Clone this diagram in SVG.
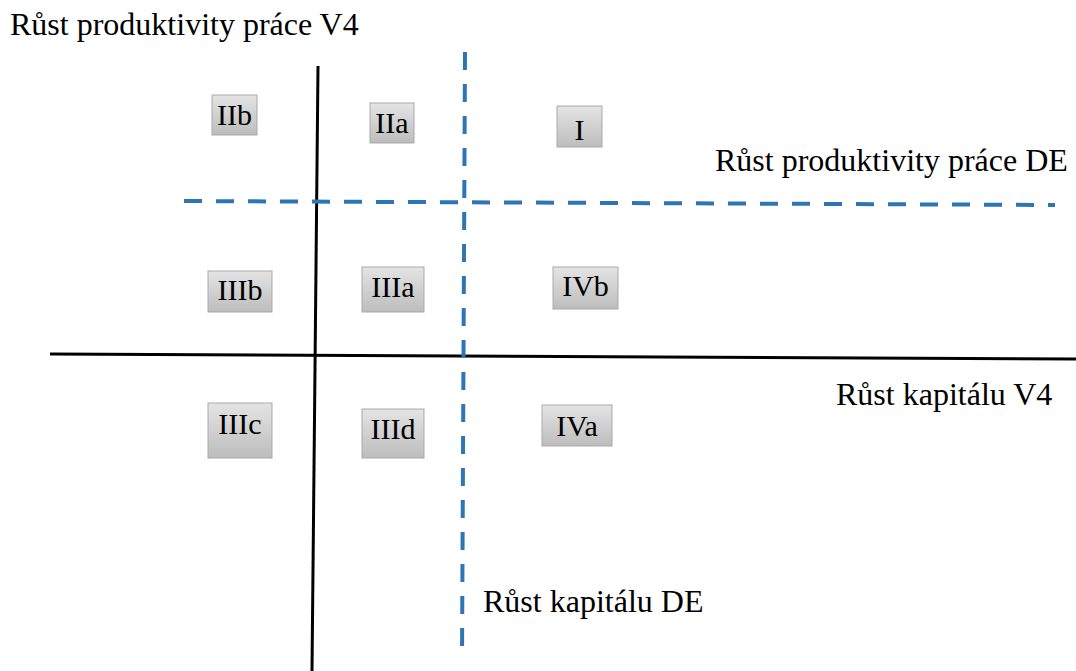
<svg xmlns="http://www.w3.org/2000/svg" width="1076" height="671" viewBox="0 0 1076 671">
  <defs>
    <linearGradient id="boxFill" x1="0" y1="0" x2="0" y2="1">
      <stop offset="0" stop-color="#e4e4e4"/>
      <stop offset="1" stop-color="#bdbdbd"/>
    </linearGradient>
  </defs>
  <style>
    .box { fill: url(#boxFill); stroke: #a9a9a9; stroke-width: 1; }
    .lbl { text-anchor: middle; }
    .axis { stroke: #000; stroke-width: 3; fill: none; }
    .ref { stroke: #2e75b6; stroke-width: 4; fill: none; stroke-dasharray: 18 14; }
  </style>
  <rect width="1076" height="671" fill="#fff"/>

  <!-- axes and reference lines -->
  <g id="connectors">
    <line class="axis" x1="318" y1="66" x2="312" y2="671"/>
    <line class="axis" x1="50" y1="354" x2="1076" y2="359"/>
    <line class="ref" x1="465" y1="52" x2="462" y2="660"/>
    <line class="ref" x1="184" y1="201" x2="1055" y2="205"/>
  </g>

  <!-- axis titles -->
  <g id="axis-labels">
    <text x="10" y="35" font-family="Liberation Serif" font-size="32">Růst produktivity práce V4</text>
    <text x="715" y="171" font-family="Liberation Serif" font-size="32">Růst produktivity práce DE</text>
    <text x="836" y="405" font-family="Liberation Serif" font-size="32">Růst kapitálu V4</text>
    <text x="483" y="612" font-family="Liberation Serif" font-size="32">Růst kapitálu DE</text>
  </g>

  <!-- quadrant tags -->
  <g id="node-IIb"><rect class="box" x="212" y="95" width="45" height="40"/><text class="lbl" x="234.5" y="125" font-family="Liberation Serif" font-size="30">IIb</text></g>
  <g id="node-IIa"><rect class="box" x="370" y="103" width="44" height="40"/><text class="lbl" x="392" y="133" font-family="Liberation Serif" font-size="30">IIa</text></g>
  <g id="node-I"><rect class="box" x="557" y="106" width="45" height="41"/><text class="lbl" x="579.5" y="140" font-family="Liberation Serif" font-size="30">I</text></g>
  <g id="node-IIIb"><rect class="box" x="208" y="271" width="64" height="41"/><text class="lbl" x="240" y="300" font-family="Liberation Serif" font-size="30">IIIb</text></g>
  <g id="node-IIIa"><rect class="box" x="362" y="267" width="62" height="45"/><text class="lbl" x="393" y="297" font-family="Liberation Serif" font-size="30">IIIa</text></g>
  <g id="node-IVb"><rect class="box" x="553" y="267" width="65" height="42"/><text class="lbl" x="585.5" y="296" font-family="Liberation Serif" font-size="30">IVb</text></g>
  <g id="node-IIIc"><rect class="box" x="208" y="403" width="64" height="55"/><text class="lbl" x="240" y="434" font-family="Liberation Serif" font-size="30">IIIc</text></g>
  <g id="node-IIId"><rect class="box" x="362" y="409" width="62" height="49"/><text class="lbl" x="393" y="439" font-family="Liberation Serif" font-size="30">IIId</text></g>
  <g id="node-IVa"><rect class="box" x="542" y="405" width="70" height="41"/><text class="lbl" x="577" y="436" font-family="Liberation Serif" font-size="30">IVa</text></g>
</svg>
